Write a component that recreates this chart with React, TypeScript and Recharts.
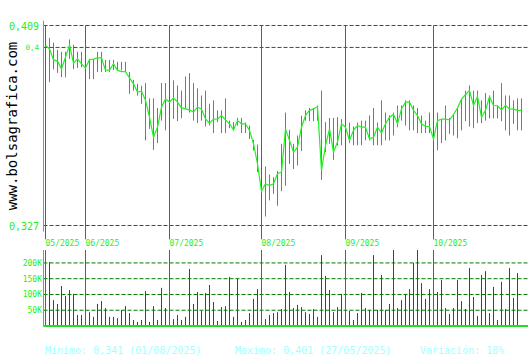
import { ComposedChart, BarChart, Bar, Line, XAxis, YAxis, ReferenceLine } from "recharts";

// sessions from 19/05/2025 to 31/10/2025, index = trading day
const MONTH_LABELS = ["05/2025", "06/2025", "07/2025", "08/2025", "09/2025", "10/2025"];
const MONTH_START = [0, 10, 31, 54, 75, 97];

const PRICE_TICKS = [0.327, 0.4, 0.409];
const PRICE_LABELS = ["0,327", "0,4", "0,409"];
const VOLUME_TICKS = [50000, 100000, 150000, 200000];
const VOLUME_LABELS = ["50K", "100K", "150K", "200K"];

const HIGH = [
  0.409, 0.4039, 0.402, 0.399, 0.3982, 0.3982, 0.4033, 0.4011, 0.3982, 0.3982,
  0.4001, 0.3953, 0.3953, 0.3982, 0.3982, 0.3949, 0.3949, 0.3949, 0.3941, 0.3941,
  0.3941, 0.3899, 0.3867, 0.3851, 0.3843, 0.3854, 0.3791, 0.3791, 0.3752, 0.3854,
  0.3854, 0.3952, 0.3865, 0.3844, 0.3823, 0.3881, 0.3895, 0.3854, 0.3832, 0.3803,
  0.3823, 0.3769, 0.3783, 0.3742, 0.3742, 0.3791, 0.37, 0.3694, 0.3711, 0.3711,
  0.3692, 0.368, 0.3621, 0.3602, 0.3591, 0.3512, 0.3479, 0.3468, 0.3493, 0.3605,
  0.3733, 0.3662, 0.3605, 0.3639, 0.372, 0.3742, 0.3752, 0.3752, 0.3762, 0.3823,
  0.3694, 0.3711, 0.3711, 0.3714, 0.3706, 0.3714, 0.3692, 0.3676, 0.3692, 0.37,
  0.37, 0.3721, 0.3752, 0.3692, 0.3783, 0.3733, 0.3722, 0.3733, 0.3762, 0.3762,
  0.3783, 0.3783, 0.3762, 0.3752, 0.3721, 0.37, 0.3733, 0.3673, 0.3733, 0.3706,
  0.3762, 0.3711, 0.3725, 0.3752, 0.3789, 0.3823, 0.3844, 0.3823, 0.3823, 0.3783,
  0.3813, 0.3803, 0.3823, 0.3762, 0.3854, 0.3803, 0.3803, 0.3783, 0.3791, 0.3791,
];

const LOW = [
  0.3899, 0.3858, 0.391, 0.3896, 0.3878, 0.3878, 0.3953, 0.3911, 0.3916, 0.3919,
  0.3851, 0.387, 0.387, 0.3899, 0.3899, 0.3899, 0.3899, 0.3908, 0.3906, 0.3906,
  0.3899, 0.381, 0.3823, 0.3803, 0.3769, 0.3619, 0.3666, 0.358, 0.3608, 0.37,
  0.366, 0.366, 0.3707, 0.3698, 0.371, 0.3747, 0.3733, 0.37, 0.3691, 0.37,
  0.3676, 0.368, 0.3649, 0.3694, 0.3649, 0.3649, 0.3669, 0.366, 0.368, 0.3649,
  0.3649, 0.3625, 0.3578, 0.3489, 0.327, 0.3307, 0.3373, 0.34, 0.3351, 0.3411,
  0.3433, 0.3523, 0.3502, 0.3516, 0.3575, 0.37, 0.3698, 0.3698, 0.37, 0.3457,
  0.3571, 0.3605, 0.3539, 0.3598, 0.3599, 0.3599, 0.3608, 0.3599, 0.3599, 0.3599,
  0.3619, 0.3619, 0.3599, 0.3599, 0.3599, 0.3619, 0.3619, 0.3639, 0.3673, 0.37,
  0.368, 0.366, 0.366, 0.3649, 0.3649, 0.3649, 0.3649, 0.3605, 0.3578, 0.3608,
  0.3619, 0.3646, 0.3639, 0.3628, 0.366, 0.3698, 0.3676, 0.3669, 0.369, 0.369,
  0.37, 0.3709, 0.3709, 0.3709, 0.3698, 0.366, 0.3639, 0.3687, 0.366, 0.366,
];

const CLOSE = [
  0.4008, 0.3994, 0.3949, 0.3944, 0.3912, 0.396, 0.401, 0.3936, 0.3953, 0.3933,
  0.3916, 0.395, 0.3952, 0.3957, 0.3957, 0.3906, 0.3908, 0.3933, 0.3906, 0.3901,
  0.3901, 0.3875, 0.3851, 0.3817, 0.3821, 0.3783, 0.3714, 0.3632, 0.3673, 0.3755,
  0.3789, 0.3776, 0.3793, 0.3776, 0.3752, 0.3748, 0.3744, 0.3735, 0.3755, 0.3748,
  0.3707, 0.369, 0.3706, 0.3707, 0.3721, 0.3703, 0.3687, 0.3662, 0.37, 0.3687,
  0.3687, 0.366, 0.3605, 0.3523, 0.341, 0.3441, 0.3434, 0.3441, 0.3482, 0.3489,
  0.3666, 0.3619, 0.3571, 0.3591, 0.3673, 0.3721, 0.3742, 0.3748, 0.3758, 0.3496,
  0.3598, 0.3666, 0.3571, 0.3612, 0.3687, 0.3673, 0.3619, 0.366, 0.368, 0.3673,
  0.3673, 0.3625, 0.3632, 0.3673, 0.3649, 0.3687, 0.3714, 0.3725, 0.3687, 0.3748,
  0.3776, 0.3776, 0.3742, 0.3721, 0.3687, 0.3676, 0.3676, 0.3625, 0.37, 0.3706,
  0.3706, 0.3703, 0.3725, 0.3752, 0.3788, 0.3807, 0.3823, 0.3762, 0.3799, 0.3714,
  0.3742, 0.3799, 0.3762, 0.3761, 0.3744, 0.3763, 0.3748, 0.3747, 0.3742, 0.3742,
];

const VOLUME = [
  108000, 203000, 82000, 70000, 127000, 95000, 114000, 102000, 35000, 35000,
  152000, 44000, 29000, 70000, 79000, 57000, 29000, 29000, 25000, 51000,
  63000, 41000, 19000, 13000, 19000, 111000, 13000, 63000, 19000, 121000,
  57000, 146000, 22000, 35000, 19000, 29000, 181000, 70000, 108000, 48000,
  105000, 130000, 76000, 16000, 60000, 63000, 156000, 29000, 149000, 13000,
  19000, 41000, 86000, 117000, 111000, 22000, 35000, 41000, 44000, 54000,
  194000, 108000, 57000, 67000, 60000, 44000, 38000, 54000, 29000, 225000,
  159000, 114000, 44000, 60000, 102000, 124000, 48000, 19000, 41000, 105000,
  57000, 51000, 225000, 51000, 162000, 51000, 70000, 241000, 57000, 82000,
  102000, 117000, 200000, 241000, 136000, 86000, 117000, 90000, 108000, 146000,
  57000, 38000, 57000, 146000, 79000, 54000, 184000, 92000, 32000, 162000,
  174000, 41000, 124000, 19000, 140000, 54000, 184000, 89000, 168000, 3000,
];

const FOOTER = ["Minimo: 0,341 (01/08/2025)", "Maximo: 0,401 (27/05/2025)", "Variación: 18%"];

const data = CLOSE.map((c, i) => ({
  i,
  close: c,
  range: [LOW[i], HIGH[i]],
  volume: VOLUME[i],
}));

const MONO = "'DejaVu Sans Mono', monospace";
const TEAL = "#1a9fa9";
const RED = "#e00000";
const LIME = "#22f022";
const AXIS_GREEN = "#22dd22";
const DARK_GREEN = "#007a00";
const MONTH_GREEN = "#189018";
const X_DOMAIN: [number, number] = [-0.5, 120.625];

// 1px wide stick, snapped to the pixel grid
function stick(color: string) {
  return (props: any) => {
    const { x, y, width, height } = props;
    const top = Math.min(y, y + height);
    const h = Math.max(Math.abs(height), 1);
    return <rect x={Math.floor(x + width / 2)} y={top} width={1} height={h} fill={color} />;
  };
}
const RangeStick = stick(TEAL);
const VolumeStick = stick(RED);

function MonthTick({ x, payload }: any) {
  const k = MONTH_START.indexOf(payload.value);
  return (
    <text x={x} y={246} textAnchor="start" fontSize={8} fontFamily={MONO} fill={LIME}>
      {MONTH_LABELS[k]}
    </text>
  );
}

function PriceTick({ y, payload }: any) {
  const k = PRICE_TICKS.indexOf(payload.value);
  const small = payload.value === 0.4;
  return (
    <text x={39} y={y + (small ? 3 : 4)} textAnchor="end" fontSize={small ? 7.5 : 10} fontFamily={MONO} fill={LIME}>
      {PRICE_LABELS[k]}
    </text>
  );
}

function VolumeTick({ y, payload }: any) {
  const k = VOLUME_TICKS.indexOf(payload.value);
  return (
    <text x={42} y={y + 3} textAnchor="end" fontSize={8} fontFamily={MONO} fill={LIME}>
      {VOLUME_LABELS[k]}
    </text>
  );
}

export default function App() {
  return (
    <div style={{ position: "absolute", left: 0, top: 0, width: 530, height: 360, background: "#fff" }}>
      <div style={{ position: "absolute", left: 0, top: 0 }}>
        <ComposedChart width={530} height={250} data={data} margin={{ top: 25.5, right: 2, bottom: 0, left: 0 }}>
          <XAxis
            dataKey="i"
            type="number"
            domain={X_DOMAIN}
            allowDataOverflow
            ticks={MONTH_START}
            interval={0}
            tick={<MonthTick />}
            axisLine={false}
            tickLine={false}
            height={24.5}
          />
          <YAxis
            domain={[0.327, 0.409]}
            allowDataOverflow
            ticks={PRICE_TICKS}
            interval={0}
            tick={<PriceTick />}
            axisLine={false}
            tickLine={false}
            width={43.5}
          />
          {PRICE_TICKS.map((v) => (
            <ReferenceLine key={v} y={v} stroke={DARK_GREEN} strokeDasharray="4 2" />
          ))}
          {MONTH_START.map((m) => (
            <ReferenceLine
              key={m}
              segment={[{ x: m, y: 0.409 }, { x: m, y: 0.3213 }]}
              ifOverflow="visible"
              stroke={MONTH_GREEN}
            />
          ))}
          <ReferenceLine
            segment={[{ x: -0.5, y: 0.411 }, { x: -0.5, y: 0.3245 }]}
            ifOverflow="visible"
            stroke={AXIS_GREEN}
          />
          <Bar dataKey="range" barSize={1} fill={TEAL} shape={RangeStick} isAnimationActive={false} />
          <Line dataKey="close" type="linear" stroke={LIME} strokeWidth={1.2} dot={false} activeDot={false} isAnimationActive={false} />
        </ComposedChart>
      </div>
      <div style={{ position: "absolute", left: 0, top: 0 }}>
        <BarChart width={530} height={328} data={data} margin={{ top: 250, right: 2, bottom: 0, left: 0 }}>
          <XAxis
            dataKey="i"
            type="number"
            domain={X_DOMAIN}
            allowDataOverflow
            tick={false}
            tickLine={false}
            axisLine={{ stroke: AXIS_GREEN, strokeWidth: 2 }}
            height={2}
          />
          <YAxis
            domain={[0, 241000]}
            allowDataOverflow
            ticks={VOLUME_TICKS}
            interval={0}
            tick={<VolumeTick />}
            axisLine={{ stroke: AXIS_GREEN }}
            tickLine={false}
            width={43.5}
          />
          {VOLUME_TICKS.map((v) => (
            <ReferenceLine key={v} y={v} stroke={DARK_GREEN} strokeDasharray="4 2" />
          ))}
          {MONTH_START.map((m) => (
            <ReferenceLine key={m} x={m} stroke={MONTH_GREEN} />
          ))}
          <Bar dataKey="volume" barSize={1} fill={RED} shape={VolumeStick} isAnimationActive={false} />
        </BarChart>
      </div>
      <svg width={30} height={250} style={{ position: "absolute", left: 0, top: 0 }}>
        <text x={17} y={126} transform="rotate(-90 17 126)" textAnchor="middle" fontSize={14} fontFamily={MONO} fill="#000">
          www.bolsagrafica.com
        </text>
      </svg>
      {FOOTER.map((t, k) => (
        <div
          key={t}
          style={{
            position: "absolute",
            left: [45, 235, 420][k],
            top: 345,
            fontFamily: MONO,
            fontSize: 10,
            lineHeight: "12px",
            color: "#a0ffff",
            whiteSpace: "pre",
          }}
        >
          {t}
        </div>
      ))}
    </div>
  );
}
